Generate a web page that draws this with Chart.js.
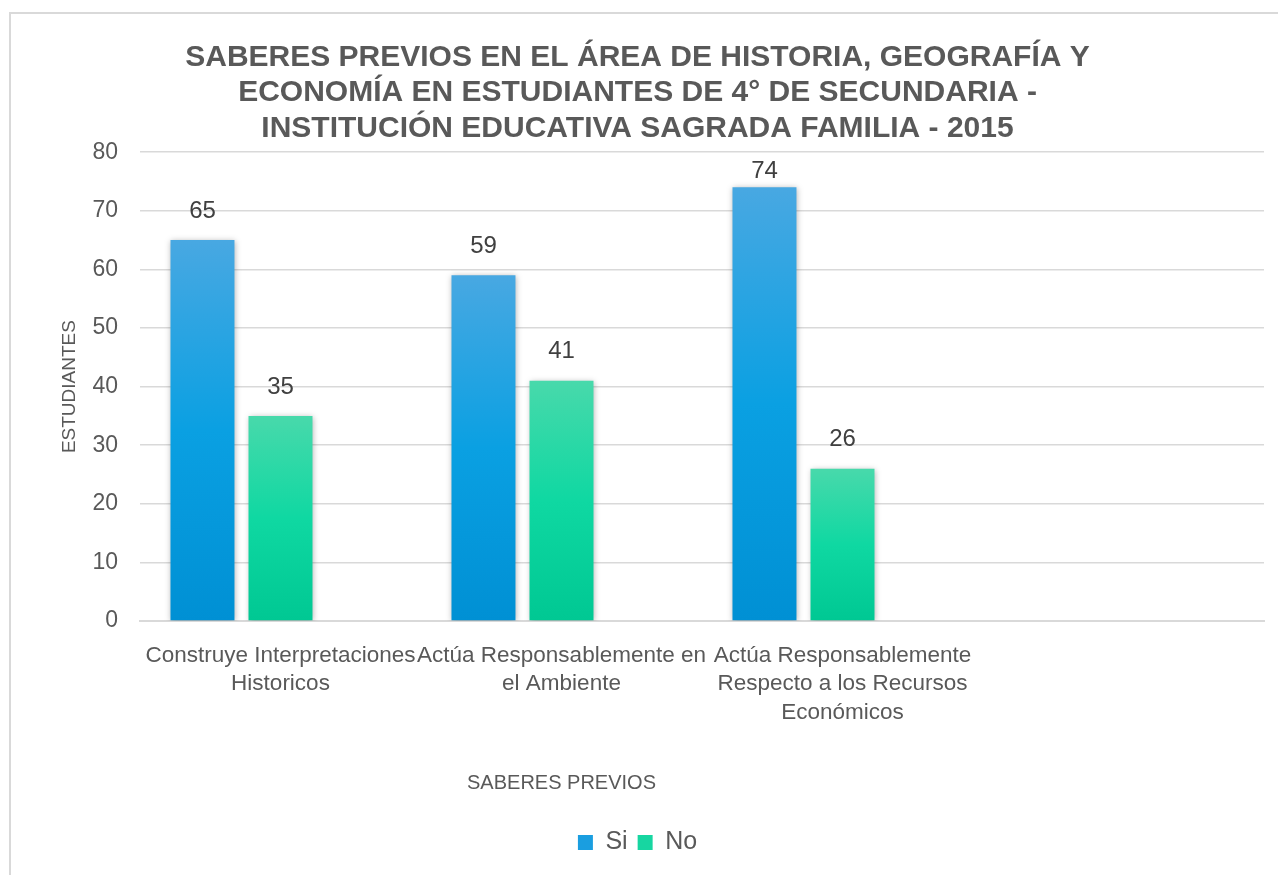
<!DOCTYPE html>
<html>
<head>
<meta charset="utf-8">
<script src="https://cdn.jsdelivr.net/npm/chart.js@4.4.0/dist/chart.umd.min.js"></script>
<style>
  body { margin: 0; background: #fff; }
  #frame { position: absolute; left: 9px; top: 12px; border-top: 2px solid #d9d9d9; border-left: 2px solid #d9d9d9; }
  canvas { display: block; }
</style>
</head>
<body>
<div id="frame"><canvas id="chart" width="1267" height="861"></canvas></div>
<script>
// data
var categories = [
    ["Construye Interpretaciones", "Historicos"],
    ["Actúa Responsablemente en", "el Ambiente"],
    ["Actúa Responsablemente", "Respecto a los Recursos", "Económicos"],
    ""
];
var siValues = [65, 59, 74, null];
var noValues = [35, 41, 26, null];
var emptyValues = [null, null, null, null];
var yTicks = { min: 0, max: 80, step: 10 };

var FONT = "'Liberation Sans', Arial, sans-serif";
var GREY = "#595959";

// vertical gradient per bar, from its top down to zero
function barGradient(top, bottom, fallback) {
    return function (c) {
        var chart = c.chart;
        if (!chart.chartArea || c.raw == null) return fallback;
        var y = chart.scales.y;
        var y0 = y.getPixelForValue(c.raw), y1 = y.getPixelForValue(0);
        var g = chart.ctx.createLinearGradient(0, y0, 0, y1);
        g.addColorStop(0, top);
        g.addColorStop(0.5, fallback);
        g.addColorStop(1, bottom);
        return g;
    };
}

var shadowPlugin = {
    id: 'shadow',
    beforeDatasetsDraw: function (chart) {
        var ctx = chart.ctx;
        ctx.save();
        ctx.shadowColor = 'rgba(0,0,0,0.3)';
        ctx.shadowBlur = 6;
        ctx.shadowOffsetX = 1;
        ctx.shadowOffsetY = 1;
    },
    afterDatasetsDraw: function (chart) {
        chart.ctx.restore();
    }
};

// value labels above the bars, kept inside the plot area
var valuePlugin = {
    id: 'values',
    afterDatasetsDraw: function (chart) {
        var ctx = chart.ctx;
        ctx.save();
        ctx.font = "24px " + FONT;
        ctx.fillStyle = "#404040";
        ctx.textAlign = "center";
        ctx.textBaseline = "middle";
        chart.data.datasets.forEach(function (ds, i) {
            chart.getDatasetMeta(i).data.forEach(function (bar, j) {
                if (ds.data[j] == null) return;
                var y = Math.max(bar.y - 29, chart.chartArea.top + 19);
                ctx.fillText(ds.data[j], bar.x, y);
            });
        });
        ctx.restore();
    }
};

// x axis title sits under the middle category, as in the original
var xTitlePlugin = {
    id: 'xTitle',
    afterDraw: function (chart) {
        var ctx = chart.ctx;
        ctx.save();
        ctx.font = "20px " + FONT;
        ctx.fillStyle = GREY;
        ctx.textAlign = "center";
        ctx.textBaseline = "middle";
        ctx.fillText("SABERES PREVIOS", chart.scales.x.getPixelForValue(1), 769);
        ctx.restore();
    }
};

new Chart(document.getElementById('chart'), {
    type: 'bar',
    data: {
        labels: categories,
        datasets: [
            {
                label: "Si",
                data: siValues,
                backgroundColor: barGradient("#48a8e2", "#0090d4", "#0aa0e2"),
                categoryPercentage: 0.833,
                barPercentage: 0.82
            },
            {
                label: "No",
                data: noValues,
                backgroundColor: barGradient("#48d9ab", "#00c893", "#0fd8a2"),
                categoryPercentage: 0.833,
                barPercentage: 0.82
            },
            {
                label: "",
                data: emptyValues,
                backgroundColor: "#999",
                categoryPercentage: 0.833,
                barPercentage: 0.82
            }
        ]
    },
    options: {
        responsive: false,
        animation: false,
        layout: { padding: { left: 0, right: 14, top: 0, bottom: 10 } },
        plugins: {
            title: {
                display: true,
                text: [
                    "SABERES PREVIOS EN EL ÁREA DE HISTORIA, GEOGRAFÍA Y",
                    "ECONOMÍA EN ESTUDIANTES DE 4° DE SECUNDARIA -",
                    "INSTITUCIÓN EDUCATIVA SAGRADA FAMILIA - 2015"
                ],
                color: GREY,
                font: { family: FONT, size: 30, weight: 'bold', lineHeight: 1.18 },
                padding: { top: 26, bottom: 6 }
            },
            legend: {
                position: 'bottom',
                labels: {
                    color: GREY,
                    font: { family: FONT, size: 25 },
                    boxWidth: 15,
                    boxHeight: 15,
                    padding: 10,
                    filter: function (item) { return item.text !== ""; },
                    generateLabels: function (chart) {
                        var fills = ["#1a9ee0", "#17d6a1"];
                        return chart.data.datasets.map(function (ds, i) {
                            return {
                                text: ds.label,
                                fillStyle: fills[i] || "#999",
                                strokeStyle: fills[i] || "#999",
                                lineWidth: 0,
                                fontColor: GREY,
                                datasetIndex: i
                            };
                        });
                    }
                }
            },
            tooltip: { enabled: false }
        },
        scales: {
            x: {
                grid: { display: false },
                border: { display: true, color: "#d9d9d9", width: 2 },
                ticks: {
                    color: GREY,
                    font: { family: FONT, size: 22.5, lineHeight: 1.28 },
                    autoSkip: false,
                    maxRotation: 0,
                    padding: 12
                },
                afterFit: function (scale) { scale.height = 199; }
            },
            y: {
                min: yTicks.min,
                max: yTicks.max,
                grid: { color: "#d9d9d9", lineWidth: 1.5, drawTicks: false },
                border: { display: false },
                ticks: {
                    stepSize: yTicks.step,
                    color: GREY,
                    font: { family: FONT, size: 23 },
                    padding: 22
                },
                title: {
                    display: true,
                    text: "ESTUDIANTES",
                    color: GREY,
                    font: { family: FONT, size: 19, lineHeight: 1.2 },
                    padding: { top: 47, bottom: 0 }
                },
                afterFit: function (scale) { scale.width = 129; }
            }
        }
    },
    plugins: [shadowPlugin, valuePlugin, xTitlePlugin]
});
</script>
</body>
</html>
